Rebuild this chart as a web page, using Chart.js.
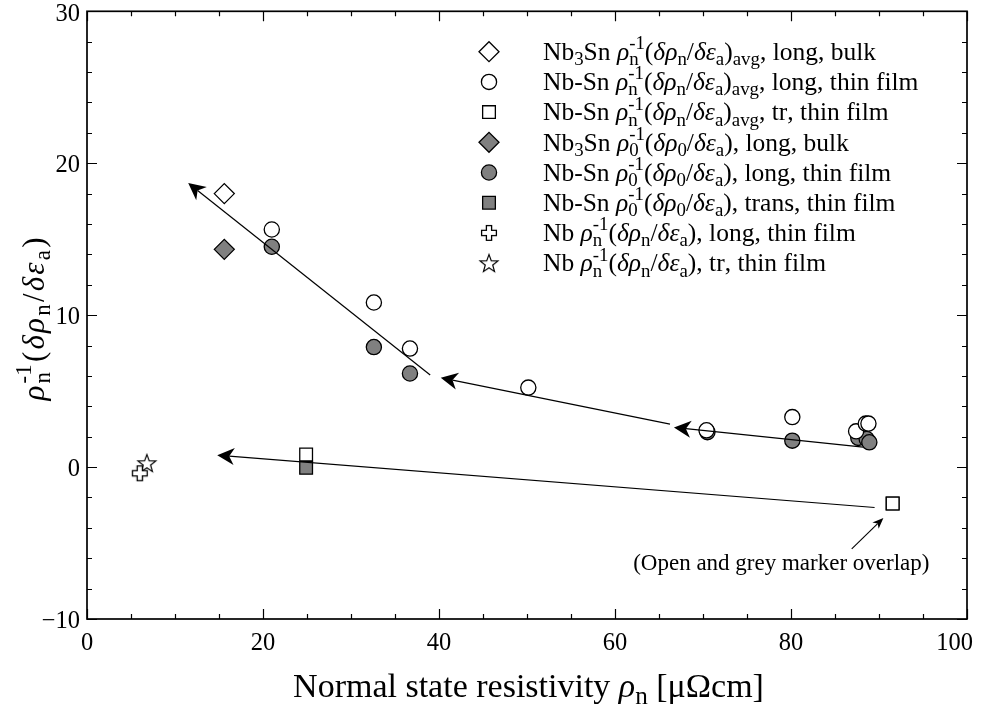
<!DOCTYPE html>
<html>
<head>
<meta charset="utf-8">
<script src="https://cdn.jsdelivr.net/npm/chart.js@4/dist/chart.umd.min.js"></script>
<style>
  html, body { margin: 0; padding: 0; background: #fff; }
  canvas { display: block; }
</style>
</head>
<body>
<canvas id="chart" width="981" height="710"></canvas>
<script>
// Strain sensitivity of the normal-state resistivity versus resistivity
const FONT = '"Liberation Serif", "Times New Roman", serif';

// Nb3Sn bulk, averaged normal-state sensitivity (longitudinal)
const bulkAvgX = [15.6];
const bulkAvgY = [18.0];
// Nb-Sn thin film, averaged normal-state sensitivity (longitudinal)
const filmAvgLongX = [21.0, 32.6, 36.7, 50.15, 70.4, 80.15, 87.4, 88.5, 88.8];
const filmAvgLongY = [15.64, 10.83, 7.8, 5.23, 2.42, 3.29, 2.35, 2.86, 2.86];
// Nb-Sn thin film, averaged normal-state sensitivity (transverse)
const filmAvgTrX = [24.9, 91.55];
const filmAvgTrY = [0.83, -2.4];
// Nb3Sn bulk, residual resistivity sensitivity (longitudinal)
const bulkResX = [15.6];
const bulkResY = [14.33];
// Nb-Sn thin film, residual resistivity sensitivity (longitudinal)
const filmResLongX = [21.0, 32.6, 36.7, 70.5, 80.15, 87.65, 88.6, 88.9];
const filmResLongY = [14.5, 7.9, 6.16, 2.3, 1.74, 1.92, 1.85, 1.63];
// Nb-Sn thin film, residual resistivity sensitivity (transverse)
const filmResTrX = [24.9, 91.55];
const filmResTrY = [-0.05, -2.4];
// Nb thin film, longitudinal and transverse
const nbLongX = [6.0];
const nbLongY = [-0.41];
const nbTrX = [6.8];
const nbTrY = [0.26];

// Trend arrows (tail -> head), in data units
const arrowTailX = [39.0, 66.25, 88.2, 89.5];
const arrowTailY = [6.06, 2.83, 1.31, -2.66];
const arrowHeadX = [11.5, 40.2, 66.7, 14.8];
const arrowHeadY = [18.7, 5.88, 2.61, 0.78];

// Note pointing at the overlapping markers
const noteText = '(Open and grey marker overlap)';
const noteTextX = 78.9;
const noteTextY = -6.8;
const noteTailX = [86.9];
const noteTailY = [-5.38];
const noteHeadX = [90.5];
const noteHeadY = [-3.35];

// Axes
const xTickValues = [0, 20, 40, 60, 80, 100];
const yTickValues = [-10, 0, 10, 20, 30];

// Series labels; *..* italic, _{..} subscript, ^{..} superscript, _^{a}{b} stacked
const seriesLabels = [
  'Nb_{3}Sn *ρ*_^{n}{-1}(*δρ*_{n}/*δε*_{a})_{avg}, long, bulk',
  'Nb-Sn *ρ*_^{n}{-1}(*δρ*_{n}/*δε*_{a})_{avg}, long, thin film',
  'Nb-Sn *ρ*_^{n}{-1}(*δρ*_{n}/*δε*_{a})_{avg}, tr, thin film',
  'Nb_{3}Sn *ρ*_^{0}{-1}(*δρ*_{0}/*δε*_{a}), long, bulk',
  'Nb-Sn *ρ*_^{0}{-1}(*δρ*_{0}/*δε*_{a}), long, thin film',
  'Nb-Sn *ρ*_^{0}{-1}(*δρ*_{0}/*δε*_{a}), trans, thin film',
  'Nb *ρ*_^{n}{-1}(*δρ*_{n}/*δε*_{a}), long, thin film',
  'Nb *ρ*_^{n}{-1}(*δρ*_{n}/*δε*_{a}), tr, thin film'
];
const xTitle = 'Normal state resistivity *ρ*_{n} [μΩcm]';
const yTitle = '*ρ*_^{n}{-1}(*δρ*_{n}/*δε*_{a})';

const GREY = '#808080';

function pts(xs, ys) { return xs.map((x, i) => ({ x: x, y: ys[i] })); }

// Outlined plus marker
function makePlus() {
  const s = 18, c = document.createElement('canvas');
  c.width = s; c.height = s;
  const g = c.getContext('2d');
  const cx = s / 2, cy = s / 2, a = 2.6, L = 7.4;
  g.beginPath();
  g.moveTo(cx - a, cy - L); g.lineTo(cx + a, cy - L); g.lineTo(cx + a, cy - a);
  g.lineTo(cx + L, cy - a); g.lineTo(cx + L, cy + a); g.lineTo(cx + a, cy + a);
  g.lineTo(cx + a, cy + L); g.lineTo(cx - a, cy + L); g.lineTo(cx - a, cy + a);
  g.lineTo(cx - L, cy + a); g.lineTo(cx - L, cy - a); g.lineTo(cx - a, cy - a);
  g.closePath();
  g.fillStyle = '#fff'; g.fill();
  g.lineWidth = 1.3; g.strokeStyle = '#000'; g.stroke();
  return c;
}
// Outlined five-point star marker
function makeStar() {
  const s = 22, c = document.createElement('canvas');
  c.width = s; c.height = s;
  const g = c.getContext('2d');
  const cx = s / 2, cy = s / 2 + 0.8, R = 9.4, r = 3.9;
  g.beginPath();
  for (let k = 0; k < 10; k++) {
    const ang = -Math.PI / 2 + k * Math.PI / 5;
    const rad = k % 2 === 0 ? R : r;
    const px = cx + rad * Math.cos(ang), py = cy + rad * Math.sin(ang);
    if (k === 0) g.moveTo(px, py); else g.lineTo(px, py);
  }
  g.closePath();
  g.fillStyle = '#fff'; g.fill();
  g.lineWidth = 1.2; g.strokeStyle = '#000'; g.stroke();
  return c;
}
const plusImg = makePlus();
const starImg = makeStar();

const styles = [
  { pointStyle: 'rectRot', pointRadius: 10, backgroundColor: '#fff' },
  { pointStyle: 'circle', pointRadius: 7.6, backgroundColor: '#fff' },
  { pointStyle: 'rect', pointRadius: 9, backgroundColor: '#fff' },
  { pointStyle: 'rectRot', pointRadius: 10, backgroundColor: GREY },
  { pointStyle: 'circle', pointRadius: 7.6, backgroundColor: GREY },
  { pointStyle: 'rect', pointRadius: 9, backgroundColor: GREY },
  { pointStyle: plusImg, pointRadius: 9, backgroundColor: '#fff' },
  { pointStyle: starImg, pointRadius: 10, backgroundColor: '#fff' }
];
const seriesData = [
  pts(bulkAvgX, bulkAvgY),
  pts(filmAvgLongX, filmAvgLongY),
  pts(filmAvgTrX, filmAvgTrY),
  pts(bulkResX, bulkResY),
  pts(filmResLongX, filmResLongY),
  pts(filmResTrX, filmResTrY),
  pts(nbLongX, nbLongY),
  pts(nbTrX, nbTrY)
];

const datasets = seriesData.map((d, i) => Object.assign({
  label: seriesLabels[i].replace(/[*{}_^]/g, ''),
  data: d,
  borderColor: '#000',
  borderWidth: 1.3,
  pointBorderWidth: 1.3,
  showLine: false
}, styles[i], { pointBackgroundColor: styles[i].backgroundColor, pointHoverRadius: styles[i].pointRadius }));

// ---- rich text helpers ----
const SUB_SCALE = 0.74;
function parseRich(src) {
  const out = [];
  let i = 0, italic = false, buf = '';
  const flush = () => { if (buf) { out.push({ t: 'txt', s: buf, it: italic }); buf = ''; } };
  const readGroup = () => {
    const j = src.indexOf('}', i);
    const s = src.slice(i + 1, j); i = j + 1; return s;
  };
  while (i < src.length) {
    const ch = src[i];
    if (ch === '*') { flush(); italic = !italic; i++; }
    else if (ch === '_' && src[i + 1] === '^') { flush(); i += 2; const a = readGroup(); const b = readGroup(); out.push({ t: 'stack', sub: a, sup: b }); }
    else if (ch === '_') { flush(); i++; out.push({ t: 'sub', s: readGroup() }); }
    else if (ch === '^') { flush(); i++; out.push({ t: 'sup', s: readGroup() }); }
    else { buf += ch; i++; }
  }
  flush();
  return out;
}
function fontStr(size, it) { return (it ? 'italic ' : '') + size + 'px ' + FONT; }
// Lays out glyph units; each unit is drawn separately so extra tracking can be added
function layoutRich(ctx, src, size) {
  const toks = parseRich(src), small = size * SUB_SCALE;
  const units = [];
  toks.forEach(tk => {
    if (tk.t === 'txt') {
      ctx.font = fontStr(size, tk.it);
      for (const ch of tk.s) units.push({ parts: [{ s: ch, f: ctx.font, dy: 0 }], w: ctx.measureText(ch).width });
    } else if (tk.t === 'sub' || tk.t === 'sup') {
      ctx.font = fontStr(small, false);
      for (const ch of tk.s) units.push({ parts: [{ s: ch, f: ctx.font, dy: tk.t === 'sub' ? size * 0.2 : -size * 0.42 }], w: ctx.measureText(ch).width });
    } else {
      ctx.font = fontStr(small, false);
      const w1 = ctx.measureText(tk.sub).width, w2 = ctx.measureText(tk.sup).width;
      units.push({ parts: [{ s: tk.sub, f: ctx.font, dy: size * 0.2 }, { s: tk.sup, f: ctx.font, dy: -size * 0.42 }], w: Math.max(w1, w2) });
    }
  });
  const width = units.reduce((a, u) => a + u.w, 0);
  return { units, width };
}
function drawRich(ctx, src, x, y, size, align, targetWidth) {
  const L = layoutRich(ctx, src, size);
  let gap = 0, total = L.width;
  if (targetWidth && L.units.length > 1) { gap = (targetWidth - L.width) / (L.units.length - 1); total = targetWidth; }
  let cx = align === 'center' ? x - total / 2 : (align === 'right' ? x - total : x);
  ctx.textAlign = 'left';
  ctx.textBaseline = 'alphabetic';
  ctx.fillStyle = '#000';
  L.units.forEach(u => {
    u.parts.forEach(p => { ctx.font = p.f; ctx.fillText(p.s, cx, y + p.dy); });
    cx += u.w + gap;
  });
}

function drawArrow(ctx, x1, y1, x2, y2, len, half, notch, lw) {
  const ang = Math.atan2(y2 - y1, x2 - x1);
  const ca = Math.cos(ang), sa = Math.sin(ang);
  ctx.lineWidth = lw; ctx.strokeStyle = '#000'; ctx.fillStyle = '#000';
  ctx.beginPath();
  ctx.moveTo(x1, y1);
  ctx.lineTo(x2 - ca * notch, y2 - sa * notch);
  ctx.stroke();
  const bx = x2 - ca * len, by = y2 - sa * len;
  ctx.beginPath();
  ctx.moveTo(x2, y2);
  ctx.lineTo(bx - sa * half, by + ca * half);
  ctx.lineTo(x2 - ca * notch, y2 - sa * notch);
  ctx.lineTo(bx + sa * half, by - ca * half);
  ctx.closePath();
  ctx.fill();
}

function fmtTick(v) { return v < 0 ? '\u2212' + Math.abs(v) : String(v); }

const decor = {
  id: 'decor',
  afterDatasetsDraw(chart) {
    const ctx = chart.ctx, xs = chart.scales.x, ys = chart.scales.y;
    ctx.save();
    arrowTailX.forEach((_, i) => {
      drawArrow(ctx, xs.getPixelForValue(arrowTailX[i]), ys.getPixelForValue(arrowTailY[i]),
        xs.getPixelForValue(arrowHeadX[i]), ys.getPixelForValue(arrowHeadY[i]), 17, 8.5, 12, 1.2);
    });
    noteTailX.forEach((_, i) => {
      drawArrow(ctx, xs.getPixelForValue(noteTailX[i]), ys.getPixelForValue(noteTailY[i]),
        xs.getPixelForValue(noteHeadX[i]), ys.getPixelForValue(noteHeadY[i]), 11, 4.5, 8, 1.1);
    });
    ctx.font = '23px ' + FONT;
    ctx.fillStyle = '#000'; ctx.textAlign = 'center'; ctx.textBaseline = 'alphabetic';
    ctx.fillText(noteText, xs.getPixelForValue(noteTextX), ys.getPixelForValue(noteTextY));
    ctx.restore();
  },
  afterDraw(chart) {
    const ctx = chart.ctx, a = chart.chartArea, xs = chart.scales.x, ys = chart.scales.y;
    ctx.save();
    // frame and inward ticks on all four sides
    ctx.strokeStyle = '#000';
    ctx.lineWidth = 1.2;
    ctx.beginPath();
    for (let v = xs.min; v <= xs.max + 1e-9; v += 5) {
      const px = Math.round(xs.getPixelForValue(v)) + 0.5;
      const len = (v % 20 === 0) ? 10 : 5;
      ctx.moveTo(px, a.bottom); ctx.lineTo(px, a.bottom - len);
      ctx.moveTo(px, a.top); ctx.lineTo(px, a.top + len);
    }
    for (let v = ys.min; v <= ys.max + 1e-9; v += 2) {
      const py = Math.round(ys.getPixelForValue(v)) + 0.5;
      const len = (v % 10 === 0) ? 10 : 5;
      ctx.moveTo(a.left, py); ctx.lineTo(a.left + len, py);
      ctx.moveTo(a.right, py); ctx.lineTo(a.right - len, py);
    }
    ctx.stroke();
    ctx.lineWidth = 1.7;
    ctx.strokeRect(a.left, a.top, a.right - a.left, a.bottom - a.top);

    // tick labels
    ctx.font = '24.5px ' + FONT;
    ctx.fillStyle = '#000';
    ctx.textBaseline = 'alphabetic';
    ctx.textAlign = 'right';
    yTickValues.forEach(v => {
      const py = Math.max(ys.getPixelForValue(v) + 9, 21);
      ctx.fillText(fmtTick(v), a.left - 7, py);
    });
    ctx.textAlign = 'left';
    xTickValues.forEach(v => {
      const s = fmtTick(v), w = ctx.measureText(s).width;
      const left = Math.min(xs.getPixelForValue(v) - w / 2, 973 - w);
      ctx.fillText(s, left, a.bottom + 31);
    });

    // axis titles
    drawRich(ctx, xTitle, 528.5, 697, 34, 'center');
    ctx.save();
    ctx.translate(44, 319);
    ctx.rotate(-Math.PI / 2);
    drawRich(ctx, yTitle, 0, 0, 31, 'center', 163);
    ctx.restore();

    // legend
    chart.data.datasets.forEach((ds, i) => {
      const ly = 51.7 + 30.2 * i;
      ctx.fillStyle = ds.pointBackgroundColor;
      ctx.strokeStyle = '#000';
      ctx.lineWidth = 1.3;
      Chart.helpers.drawPoint(ctx, { pointStyle: ds.pointStyle, radius: ds.pointRadius, borderWidth: 1.3, rotation: 0 }, 489, ly);
      drawRich(ctx, seriesLabels[i], 543, ly + 8.3, 25.5, 'left');
    });
    ctx.restore();
  }
};

new Chart(document.getElementById('chart'), {
  type: 'scatter',
  data: { datasets: datasets },
  options: {
    responsive: false,
    animation: false,
    events: [],
    layout: { padding: { left: 0, top: 6, right: 14, bottom: 0 } },
    plugins: { legend: { display: false }, tooltip: { enabled: false } },
    scales: {
      x: {
        type: 'linear', min: 0, max: 100,
        grid: { display: false, drawTicks: false },
        border: { display: false },
        ticks: { display: false, stepSize: 20 },
        afterFit: s => { s.height = 91; s.paddingLeft = 0; s.paddingRight = 0; }
      },
      y: {
        type: 'linear', min: -10, max: 30,
        grid: { display: false, drawTicks: false },
        border: { display: false },
        ticks: { display: false, stepSize: 10 },
        afterFit: s => { s.width = 87; s.paddingTop = 0; s.paddingBottom = 0; }
      }
    }
  },
  plugins: [decor]
});
</script>
</body>
</html>
